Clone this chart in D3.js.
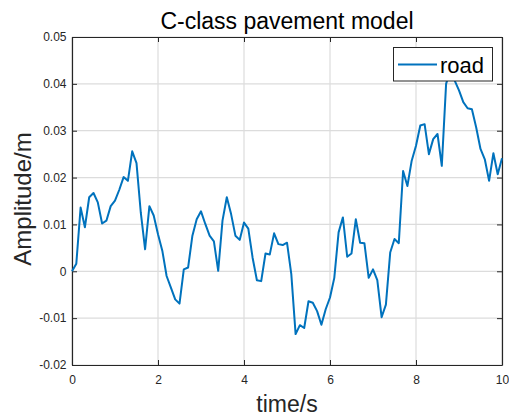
<!DOCTYPE html>
<html lang="en">
<head>
<meta charset="utf-8">
<title>C-class pavement model</title>
<script src="https://d3js.org/d3.v7.min.js"></script>
<style>
  body { margin: 0; background: #fff; }
  text { font-family: "Liberation Sans", Arial, sans-serif; }
</style>
</head>
<body>
<script>
// time samples every 0.1 s, amplitude
var time = d3.range(0, 101).map(function(i) { return i / 10; });
var road = [
  0, 0.0016, 0.0136, 0.0094, 0.0158, 0.0167, 0.0147, 0.0102, 0.0108, 0.0139,
  0.0151, 0.0174, 0.0201, 0.0193, 0.0256, 0.0231, 0.0125, 0.0047, 0.0139, 0.0119,
  0.0079, 0.0044, -0.0010, -0.0035, -0.0060, -0.0069, 0.0004, 0.0008, 0.0076, 0.0111,
  0.0128, 0.0101, 0.0076, 0.0064, 0.0001, 0.0108, 0.0158, 0.0122, 0.0076, 0.0067,
  0.0104, 0.0091, 0.0029, -0.0019, -0.0021, 0.0038, 0.0036, 0.0081, 0.0058, 0.0056,
  0.0061, -0.0006, -0.0134, -0.0115, -0.0121, -0.0064, -0.0067, -0.0085, -0.0114, -0.0081,
  -0.0056, -0.0014, 0.0083, 0.0115, 0.0031, 0.0038, 0.0111, 0.0061, 0.0060, -0.0014,
  0.0004, -0.0019, -0.0098, -0.0071, 0.0040, 0.0069, 0.0060, 0.0214, 0.0182, 0.0236,
  0.0268, 0.0311, 0.0314, 0.0250, 0.0282, 0.0293, 0.0225, 0.0400, 0.0430, 0.0407,
  0.0386, 0.0361, 0.0348, 0.0346, 0.0307, 0.0261, 0.0239, 0.0193, 0.0252, 0.0207,
  0.0241
];
var xTicks = [0, 2, 4, 6, 8, 10];
var yTicks = [-0.02, -0.01, 0, 0.01, 0.02, 0.03, 0.04, 0.05];

var width = 509, height = 419;
var margin = {left: 72, right: 7, top: 37, bottom: 54};

var svg = d3.select("body").append("svg")
    .attr("width", width)
    .attr("height", height);

var x = d3.scaleLinear().domain([0, 10]).range([margin.left, width - margin.right]);
var y = d3.scaleLinear().domain([-0.02, 0.05]).range([height - margin.bottom, margin.top]);

var axisColor = "#262626";

// grid
svg.append("g").selectAll("line").data(xTicks).enter().append("line")
    .attr("x1", function(d) { return x(d); }).attr("x2", function(d) { return x(d); })
    .attr("y1", y(-0.02)).attr("y2", y(0.05))
    .attr("stroke", "#dcdcdc").attr("stroke-width", 1.2);
svg.append("g").selectAll("line").data(yTicks).enter().append("line")
    .attr("y1", function(d) { return y(d); }).attr("y2", function(d) { return y(d); })
    .attr("x1", x(0)).attr("x2", x(10))
    .attr("stroke", "#dcdcdc").attr("stroke-width", 1.2);

// axes (ticks point inward)
var fmtY = function(d) { return d === 0 ? "0" : d3.format(".2f")(d).replace("\u2212", "-"); };

var xAxis = svg.append("g")
    .attr("transform", "translate(0," + y(-0.02) + ")")
    .call(d3.axisBottom(x).tickValues(xTicks).tickSizeInner(-5).tickSizeOuter(0).tickPadding(10));
var yAxis = svg.append("g")
    .attr("transform", "translate(" + x(0) + ",0)")
    .call(d3.axisLeft(y).tickValues(yTicks).tickFormat(fmtY).tickSizeInner(-5).tickSizeOuter(0).tickPadding(5.5));
var xTop = svg.append("g")
    .attr("transform", "translate(0," + y(0.05) + ")")
    .call(d3.axisTop(x).tickValues(xTicks).tickSizeInner(-5).tickSizeOuter(0).tickFormat(""));
var yRight = svg.append("g")
    .attr("transform", "translate(" + x(10) + ",0)")
    .call(d3.axisRight(y).tickValues(yTicks).tickSizeInner(-5).tickSizeOuter(0).tickFormat(""));

[xAxis, yAxis, xTop, yRight].forEach(function(g) {
  g.select(".domain").attr("stroke", axisColor).attr("stroke-width", 1.2);
  g.selectAll(".tick line").attr("stroke", axisColor).attr("stroke-width", 1);
  g.selectAll(".tick text").attr("fill", axisColor)
      .style("font-family", "'Liberation Sans', Arial, sans-serif").style("font-size", "12px");
});

// line
var line = d3.line()
    .x(function(d, i) { return x(time[i]); })
    .y(function(d) { return y(d); });

svg.append("path")
    .datum(road)
    .attr("d", line)
    .attr("fill", "none")
    .attr("stroke", "#0072BD")
    .attr("stroke-width", 2)
    .attr("stroke-linejoin", "round");

// title and labels
svg.append("text")
    .attr("x", x(5)).attr("y", 29)
    .attr("text-anchor", "middle")
    .attr("font-size", 23).attr("fill", "#000")
    .text("C-class pavement model");

svg.append("text")
    .attr("x", x(5)).attr("y", 412)
    .attr("text-anchor", "middle")
    .attr("font-size", 23).attr("fill", "#262626")
    .text("time/s");

svg.append("text")
    .attr("transform", "translate(31,199) rotate(-90)")
    .attr("text-anchor", "middle")
    .attr("font-size", 24).attr("fill", "#262626")
    .text("Amplitude/m");

// legend
var legend = svg.append("g");
legend.append("rect")
    .attr("x", 393.5).attr("y", 47.5)
    .attr("width", 99).attr("height", 33.5)
    .attr("fill", "#fff").attr("stroke", axisColor).attr("stroke-width", 1);
legend.append("line")
    .attr("x1", 398).attr("x2", 437)
    .attr("y1", 64.5).attr("y2", 64.5)
    .attr("stroke", "#0072BD").attr("stroke-width", 2);
legend.append("text")
    .attr("x", 440).attr("y", 73)
    .attr("font-size", 22).attr("fill", "#000")
    .text("road");
</script>
</body>
</html>
